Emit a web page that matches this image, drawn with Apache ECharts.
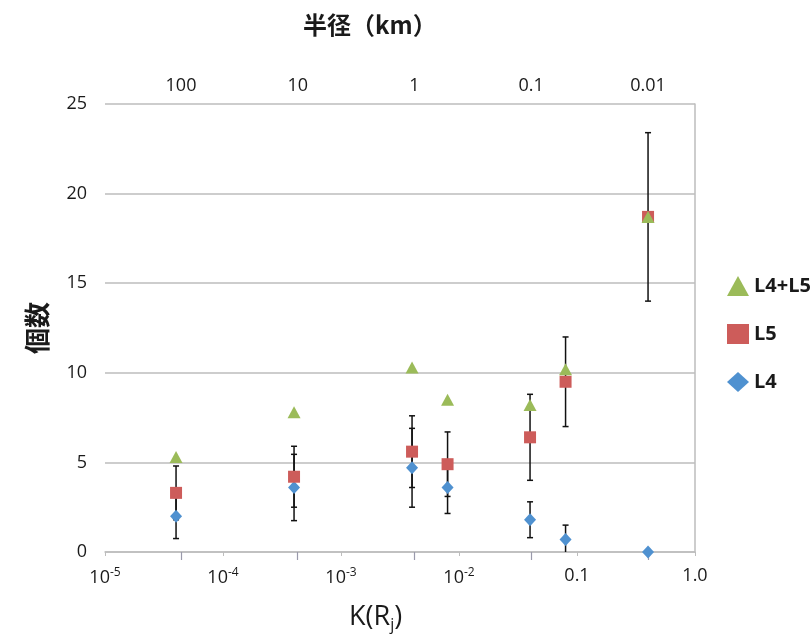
<!DOCTYPE html>
<html>
<head>
<meta charset="utf-8">
<title>個数</title>
<script src="https://cdn.jsdelivr.net/npm/echarts@6/dist/echarts.min.js"></script>
<style>
    html, body { margin: 0; padding: 0; background: #fff; }
    #chart_1 { width: 812px; height: 643px; }
</style>
</head>
<body>
<div id="chart_1"></div>
<script>
// K(Rj) positions of the seven columns
var kValues = [4e-5, 4e-4, 4e-3, 8e-3, 0.04, 0.08, 0.4];
// counts
var l4l5Counts = [5.3, 7.8, 10.3, 8.5, 8.2, 10.2, 18.7];
var l5Counts = [3.3, 4.2, 5.6, 4.9, 6.4, 9.5, 18.7];
var l5Errors = [1.5, 1.7, 2.0, 1.8, 2.4, 2.5, 4.7];
var l4Counts = [2.0, 3.6, 4.7, 3.6, 1.8, 0.7, 0];
var l4Errors = [1.25, 1.85, 2.2, 1.45, 1.0, 0.8, 0];
// tick labels
var xTickLabels = ['10{sup|-5}', '10{sup|-4}', '10{sup|-3}', '10{sup|-2}', '0.1', '1.0'];
var radiusTicks = [2, 1, 0, -1, -2]; // log10 of radius in km
var radiusLabels = ['100', '10', '1', '0.1', '0.01'];
var legendNames = ['L4+L5', 'L5', 'L4'];

var latinFont = "'Open Sans', 'Noto Sans CJK JP', sans-serif";
var cjkFont = "'Noto Sans CJK JP', 'Open Sans', sans-serif";
var gridColor = '#bdbdbd';

function pairs(xs, ys) {
    return xs.map(function(x, i) { return [x, ys[i]]; });
}

function triples(xs, ys, es) {
    return xs.map(function(x, i) { return [x, ys[i], es[i]]; });
}

function renderErrorBar(params, api) {
    var x = api.value(0);
    var v = api.value(1);
    var e = api.value(2);
    if (!e) {
        return;
    }
    var top = api.coord([x, v + e]);
    var bottom = api.coord([x, v - e]);
    var cap = 3;
    var style = { stroke: '#111', lineWidth: 1.5 };
    return {
        type: 'group',
        children: [{
            type: 'line',
            shape: { x1: top[0], y1: top[1], x2: bottom[0], y2: bottom[1] },
            style: style
        }, {
            type: 'line',
            shape: { x1: top[0] - cap, y1: top[1], x2: top[0] + cap, y2: top[1] },
            style: style
        }, {
            type: 'line',
            shape: { x1: bottom[0] - cap, y1: bottom[1], x2: bottom[0] + cap, y2: bottom[1] },
            style: style
        }]
    };
}

var chart_1 = echarts.init(document.getElementById('chart_1'));
var option = {
    animation: false,
    backgroundColor: '#fff',
    title: [{
        text: '半径（km）',
        left: 298,
        top: 8,
        textStyle: { fontFamily: cjkFont, fontSize: 24, fontWeight: 'bold', color: '#1a1a1a' }
    }, {
        text: 'K(R{sub|j})',
        left: 344,
        top: 596,
        textStyle: {
            fontFamily: latinFont, fontSize: 27, fontWeight: 'normal', color: '#1a1a1a',
            rich: {
                sub: { fontFamily: latinFont, fontSize: 16, color: '#1a1a1a', padding: [16, 0, 0, 0] }
            }
        }
    }],
    legend: {
        orient: 'vertical',
        left: 722,
        top: 271,
        itemWidth: 22,
        itemHeight: 20,
        itemGap: 28,
        textStyle: { fontFamily: latinFont, fontSize: 20, fontWeight: 'bold', color: '#1a1a1a' },
        data: [
            { name: legendNames[0], icon: 'triangle' },
            { name: legendNames[1], icon: 'rect' },
            { name: legendNames[2], icon: 'diamond' }
        ]
    },
    grid: {
        left: 105,
        right: 117,
        top: 104,
        bottom: 91
    },
    xAxis: [{
        type: 'log',
        logBase: 10,
        min: 1e-5,
        max: 1,
        position: 'bottom',
        axisLine: { show: true, lineStyle: { color: gridColor, width: 1.5 } },
        axisTick: { show: true, length: 4, lineStyle: { color: gridColor } },
        splitLine: { show: false },
        axisLabel: {
            margin: 15,
            color: '#1a1a1a',
            fontFamily: latinFont,
            fontSize: 18,
            formatter: function(value) {
                var idx = Math.round(Math.log(value) / Math.LN10) + 5;
                return xTickLabels[idx];
            },
            rich: {
                sup: { fontFamily: latinFont, fontSize: 12, color: '#1a1a1a', padding: [0, 0, 10, 0] }
            }
        }
    }, {
        type: 'value',
        position: 'top',
        inverse: true,
        min: -2.403,
        max: 2.651,
        axisLine: { show: false },
        axisTick: {
            show: true,
            inside: true,
            length: 8,
            customValues: radiusTicks,
            lineStyle: { color: '#9a9aab', width: 1.2 }
        },
        splitLine: { show: false },
        axisLabel: {
            margin: 9,
            color: '#1a1a1a',
            fontFamily: latinFont,
            fontSize: 18,
            customValues: radiusTicks,
            formatter: function(value) {
                return radiusLabels[radiusTicks.indexOf(Math.round(value))];
            }
        }
    }],
    yAxis: [{
        type: 'value',
        min: 0,
        max: 25,
        interval: 5,
        name: '個数',
        nameLocation: 'middle',
        nameGap: 55,
        nameTextStyle: { fontFamily: cjkFont, fontSize: 26, fontWeight: 'bold', color: '#1a1a1a' },
        axisLine: { show: false },
        axisTick: { show: false },
        splitLine: { show: true, lineStyle: { color: gridColor, width: 1.5 } },
        axisLabel: {
            margin: 18,
            color: '#1a1a1a',
            fontFamily: latinFont,
            fontSize: 18
        }
    }, {
        type: 'value',
        position: 'right',
        min: 0,
        max: 25,
        axisLine: { show: true, lineStyle: { color: gridColor, width: 1.5 } },
        axisTick: { show: false },
        axisLabel: { show: false },
        splitLine: { show: false }
    }],
    series: [{
        name: 'L5 error',
        type: 'custom',
        renderItem: renderErrorBar,
        clip: true,
        z: 1,
        encode: { x: 0, y: 1 },
        data: triples(kValues, l5Counts, l5Errors)
    }, {
        name: 'L4 error',
        type: 'custom',
        renderItem: renderErrorBar,
        clip: true,
        z: 1,
        encode: { x: 0, y: 1 },
        data: triples(kValues, l4Counts, l4Errors)
    }, {
        name: legendNames[2],
        type: 'scatter',
        symbol: 'diamond',
        symbolSize: [12, 13],
        z: 3,
        itemStyle: { color: '#4f91d0', opacity: 1 },
        data: pairs(kValues, l4Counts)
    }, {
        name: legendNames[1],
        type: 'scatter',
        symbol: 'rect',
        symbolSize: 12,
        z: 4,
        itemStyle: { color: '#cd5c5a', opacity: 1 },
        data: pairs(kValues, l5Counts)
    }, {
        name: legendNames[0],
        type: 'scatter',
        symbol: 'triangle',
        symbolSize: [13, 12],
        z: 5,
        itemStyle: { color: '#9bbb59', opacity: 1 },
        data: pairs(kValues, l4l5Counts)
    }]
};
chart_1.setOption(option);
</script>
</body>
</html>
